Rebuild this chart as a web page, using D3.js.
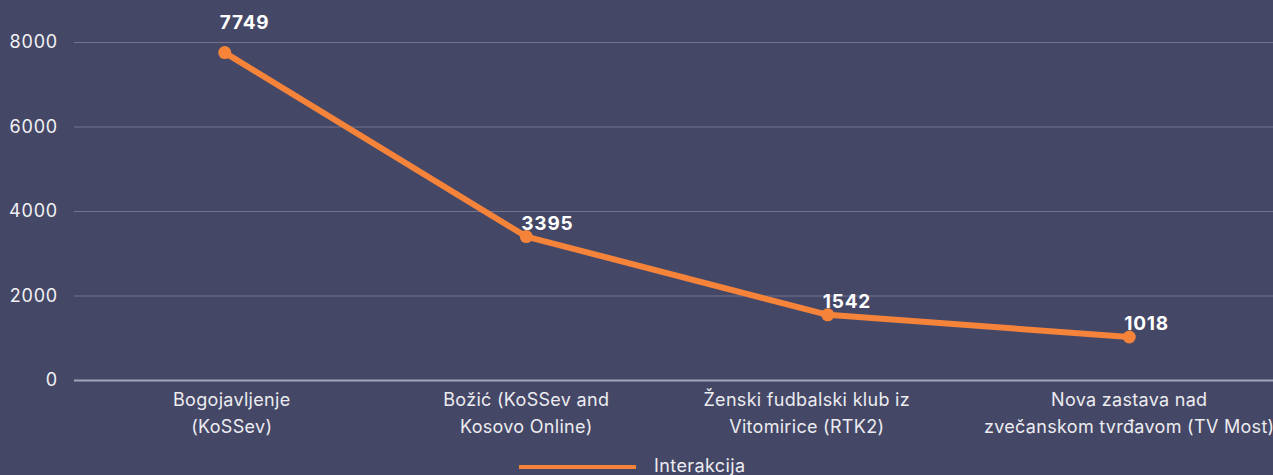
<!DOCTYPE html>
<html><head><meta charset="utf-8">
<script src="https://cdn.jsdelivr.net/npm/d3@7"></script>
<style>
html,body{margin:0;padding:0;background:#454766;}
svg{display:block;font-family:Inter,"Noto Sans",sans-serif;}
</style></head>
<body>
<svg id="c" width="1273" height="475"></svg>
<script>
(function(){
const categories = [
  ["Bogojavljenje", "(KoSSev)"],
  ["Božić (KoSSev and", "Kosovo Online)"],
  ["Ženski fudbalski klub iz", "Vitomirice (RTK2)"],
  ["Nova zastava nad", "zvečanskom tvrđavom (TV Most)"]
];
const values = [7749, 3395, 1542, 1018];
const yTicks = [0, 2000, 4000, 6000, 8000];
const seriesName = "Interakcija";

const W = 1273, H = 475;
const svg = d3.select("#c");
svg.append("rect").attr("width", W).attr("height", H).attr("fill", "#454766");

const mLeft = 74, mBottom = 380, mTop = 42;
const x = d3.scalePoint().domain(d3.range(categories.length)).range([mLeft, mLeft + 301.5*4]).padding(0.5);
const y = d3.scaleLinear().domain([0, 8000]).range([mBottom, mTop]);

// grid
const yAxis = d3.axisLeft(y).tickValues(yTicks).tickSize(-(W - mLeft)).tickPadding(16).tickFormat(d3.format("d"));
const gy = svg.append("g").attr("transform", `translate(${mLeft},0)`).call(yAxis);
gy.select(".domain").remove();
gy.selectAll(".tick line").attr("stroke", d => d === 0 ? "#a3a5b8" : "#73758f").attr("stroke-width", d => d === 0 ? 2 : 1);
gy.selectAll(".tick text").attr("fill", "#f2f2f5").attr("font-size", 18).attr("letter-spacing", 0.8)
  .attr("font-family", "Inter, 'Noto Sans', sans-serif");

// x labels (small horizontal nudges as laid out in the original)
const labelShift = [7, 0, -21, 0];
const gx = svg.append("g");
categories.forEach((lines, i) => {
  const cx = x(i) + labelShift[i];
  const t = gx.append("text").attr("x", cx).attr("y", 406).attr("text-anchor", "middle")
    .attr("fill", "#ececf0").attr("font-size", 18).attr("letter-spacing", 0.3);
  lines.forEach((l, j) => t.append("tspan").attr("x", cx).attr("dy", j === 0 ? 0 : 27).text(l));
});

const color = "#f5843a";
const line = d3.line().x((d, i) => x(i)).y(d => y(d));
svg.append("path").datum(values).attr("d", line).attr("fill", "none")
  .attr("stroke", color).attr("stroke-width", 6).attr("stroke-linejoin", "round");
svg.selectAll("circle.pt").data(values).enter().append("circle")
  .attr("cx", (d, i) => x(i)).attr("cy", d => y(d)).attr("r", 6.5).attr("fill", color);

// value labels (lift above the gridline if the label would cross it)
svg.selectAll("text.val").data(values).enter().append("text")
  .attr("x", (d, i) => x(i) - 5)
  .attr("y", d => {
    let b = y(d) - 7;
    const crossing = yTicks.find(t => y(t) < b && y(t) > b - 12);
    if (crossing !== undefined) b = y(crossing) - 13;
    return b;
  })
  .attr("fill", "#ffffff").attr("font-weight", "bold").attr("font-size", 19).attr("letter-spacing", 0.8)
  .text(d => d);

// legend
svg.append("line").attr("x1", 519).attr("x2", 636).attr("y1", 467).attr("y2", 467)
  .attr("stroke", color).attr("stroke-width", 4);
svg.append("text").attr("x", 654).attr("y", 472).attr("fill", "#ececf0").attr("font-size", 18)
  .attr("letter-spacing", 0.4).text(seriesName);
})();
</script>
</body></html>
